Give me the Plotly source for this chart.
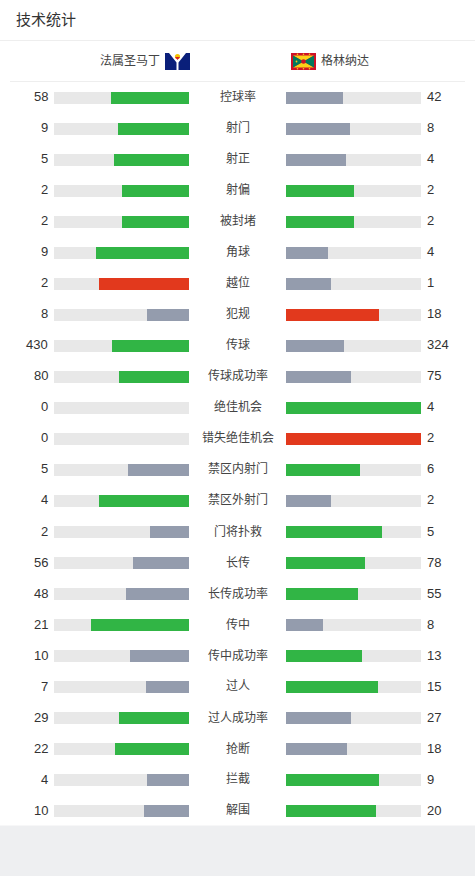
import plotly.graph_objects as go

W, H = 475, 876

labels = ["控球率", "射门", "射正", "射偏", "被封堵", "角球", "越位", "犯规", "传球",
          "传球成功率", "绝佳机会", "错失绝佳机会", "禁区内射门", "禁区外射门", "门将扑救",
          "长传", "长传成功率", "传中", "传中成功率", "过人", "过人成功率", "抢断", "拦截", "解围"]
home_vals = [58, 9, 5, 2, 2, 9, 2, 8, 430, 80, 0, 0, 5, 4, 2, 56, 48, 21, 10, 7, 29, 22, 4, 10]
away_vals = [42, 8, 4, 2, 2, 4, 1, 18, 324, 75, 4, 2, 6, 2, 5, 78, 55, 8, 13, 15, 27, 18, 9, 20]
negative_stats = ["越位", "犯规", "错失绝佳机会"]
home_team = "法属圣马丁"
away_team = "格林纳达"
title = "技术统计"

GREEN = "#31b545"
GRAY = "#949cad"
RED = "#e2391d"
TRACK = "#e8e8e8"
FONT = "Liberation Sans, Noto Sans CJK SC"

n = len(labels)
rows = list(range(n))
home_frac, away_frac, home_col, away_col = [], [], [], []
for lab, a, b in zip(labels, home_vals, away_vals):
    tot = a + b
    home_frac.append(a / tot if tot else 0)
    away_frac.append(b / tot if tot else 0)
    hi = RED if lab in negative_stats else GREEN
    home_col.append(hi if a >= b else GRAY)
    away_col.append(hi if b >= a else GRAY)


def px(x):
    return x / W


def py(y):
    return 1 - y / H


BW = 12 / 31
fig = go.Figure()
fig.add_trace(go.Bar(y=rows, x=[1] * n, orientation="h", xaxis="x", yaxis="y",
                     marker=dict(color=TRACK, line=dict(width=0)), width=BW, hoverinfo="skip"))
fig.add_trace(go.Bar(y=rows, x=home_frac, orientation="h", xaxis="x", yaxis="y",
                     marker=dict(color=home_col, line=dict(width=0)), width=BW, hoverinfo="skip"))
fig.add_trace(go.Bar(y=rows, x=[1] * n, orientation="h", xaxis="x2", yaxis="y",
                     marker=dict(color=TRACK, line=dict(width=0)), width=BW, hoverinfo="skip"))
fig.add_trace(go.Bar(y=rows, x=away_frac, orientation="h", xaxis="x2", yaxis="y",
                     marker=dict(color=away_col, line=dict(width=0)), width=BW, hoverinfo="skip"))

annotations = []
for i in rows:
    annotations.append(dict(x=px(50), y=i, xref="paper", yref="y", text=str(home_vals[i]),
                            xanchor="right", yanchor="middle", showarrow=False,
                            font=dict(family=FONT, size=13, color="#333333")))
    annotations.append(dict(x=px(425), y=i, xref="paper", yref="y", text=str(away_vals[i]),
                            xanchor="left", yanchor="middle", showarrow=False,
                            font=dict(family=FONT, size=13, color="#333333")))
    annotations.append(dict(x=px(237.5), y=i, xref="paper", yref="y", text=labels[i],
                            xanchor="center", yanchor="middle", showarrow=False,
                            font=dict(family=FONT, size=12, color="#444444")))

annotations.append(dict(x=px(14), y=py(20), xref="paper", yref="paper", text=title,
                        xanchor="left", yanchor="middle", showarrow=False,
                        font=dict(family=FONT, size=15, color="#333333")))
annotations.append(dict(x=px(162), y=py(61), xref="paper", yref="paper", text=home_team,
                        xanchor="right", yanchor="middle", showarrow=False,
                        font=dict(family=FONT, size=12, color="#444444")))
annotations.append(dict(x=px(319), y=py(61), xref="paper", yref="paper", text=away_team,
                        xanchor="left", yanchor="middle", showarrow=False,
                        font=dict(family=FONT, size=12, color="#444444")))


def path(points):
    s = "M " + " L ".join(f"{px(x):.5f},{py(y):.5f}" for x, y in points) + " Z"
    return s


def rect(x0, y0, x1, y1, color):
    return dict(type="rect", xref="paper", yref="paper", x0=px(x0), x1=px(x1), y0=py(y1), y1=py(y0),
                fillcolor=color, line=dict(width=0), layer="above")


def poly(points, color):
    return dict(type="path", xref="paper", yref="paper", path=path(points),
                fillcolor=color, line=dict(width=0), layer="above")


def circ(cx, cy, r, color):
    return dict(type="circle", xref="paper", yref="paper", x0=px(cx - r), x1=px(cx + r),
                y0=py(cy + r), y1=py(cy - r), fillcolor=color, line=dict(width=0), layer="above")


shapes = [
    dict(type="rect", xref="paper", yref="paper", x0=0, x1=1, y0=py(825.5), y1=1,
         fillcolor="white", line=dict(width=0), layer="below"),
    dict(type="line", xref="paper", yref="paper", x0=0, x1=1, y0=py(40.5), y1=py(40.5),
         line=dict(color="#eeeeee", width=1)),
    dict(type="line", xref="paper", yref="paper", x0=px(10), x1=px(465), y0=py(81.5), y1=py(81.5),
         line=dict(color="#eeeeee", width=1)),
]
# Saint-Martin style flag
shapes.append(rect(165, 53, 190, 70, "#0a1f7a"))
shapes.append(poly([(169, 53), (186, 53), (178.5, 62.5), (178.5, 70), (176.5, 70), (176.5, 62.5)], "white"))
shapes.append(circ(177.5, 56.5, 2.6, "#f5c400"))
shapes.append(poly([(175, 57), (180, 57), (177.5, 60)], "#d8202a"))
# Grenada flag
shapes.append(rect(291, 53, 316, 70, "#ce1126"))
ix0, iy0, ix1, iy1 = 293, 55.5, 314, 67.5
cx, cy = (ix0 + ix1) / 2, (iy0 + iy1) / 2
shapes.append(poly([(ix0, iy0), (ix1, iy0), (cx, cy)], "#fcd116"))
shapes.append(poly([(ix0, iy1), (ix1, iy1), (cx, cy)], "#fcd116"))
shapes.append(poly([(ix0, iy0), (ix0, iy1), (cx, cy)], "#007a5e"))
shapes.append(poly([(ix1, iy0), (ix1, iy1), (cx, cy)], "#007a5e"))
shapes.append(circ(cx, cy, 2.3, "#ce1126"))
for sx in (297.5, 303.5, 309.5):
    shapes.append(circ(sx, 54.2, 0.8, "#fcd116"))
    shapes.append(circ(sx, 68.8, 0.8, "#fcd116"))
shapes.append(circ(296.5, 61.5, 0.9, "#fcd116"))

top_px = 97 - 15.5
bot_px = 97 + 31 * (n - 1) + 15.5
fig.update_layout(
    width=W, height=H,
    margin=dict(l=0, r=0, t=0, b=0),
    paper_bgcolor="#eeeff1",
    plot_bgcolor="rgba(0,0,0,0)",
    barmode="overlay",
    bargap=0,
    showlegend=False,
    xaxis=dict(domain=[px(54), px(189)], range=[1, 0], visible=False, fixedrange=True),
    xaxis2=dict(domain=[px(286), px(421)], range=[0, 1], visible=False, fixedrange=True, anchor="y"),
    yaxis=dict(domain=[py(bot_px), py(top_px)], range=[n - 0.5, -0.5], visible=False, fixedrange=True),
    annotations=annotations,
    shapes=shapes,
    font=dict(family=FONT),
)
fig.write_html("out.html", config={"displayModeBar": False},
               post_script="document.body.style.margin='0';document.body.style.padding='0';"
                           "document.body.style.overflow='hidden';"
                           "document.documentElement.style.overflow='hidden';")
